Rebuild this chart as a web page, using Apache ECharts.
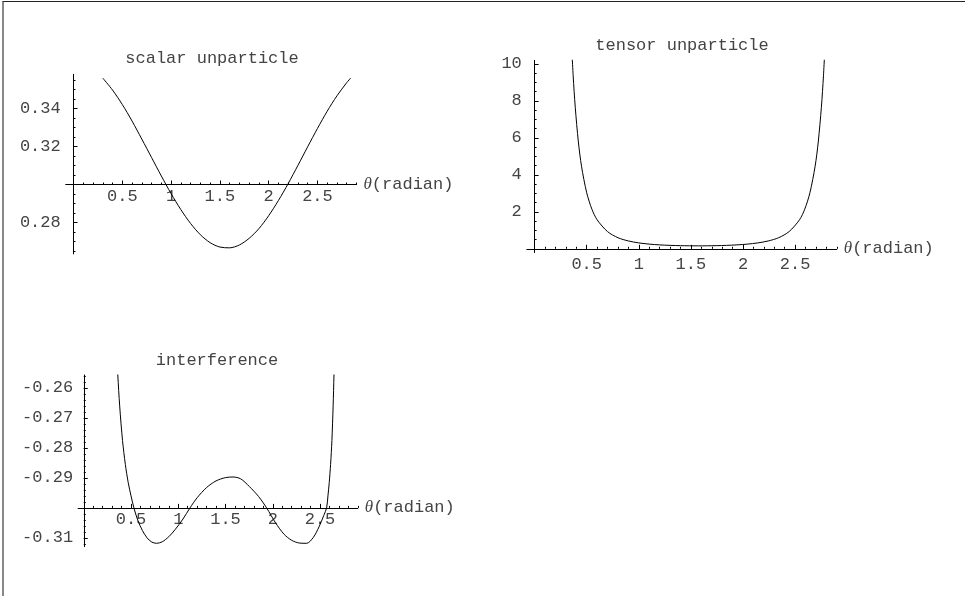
<!DOCTYPE html>
<html>
<head>
<meta charset="utf-8">
<script src="https://cdn.jsdelivr.net/npm/echarts@6/dist/echarts.min.js"></script>
<style>
  html, body { margin: 0; padding: 0; background: #fff; }
  #frame {
    position: absolute; left: 2px; top: 1px; width: 963px; height: 595px;
    border-top: 1px solid #222; border-left: 2px solid #888; box-sizing: border-box;
  }
  #main { position: absolute; left: 0; top: 0; width: 965px; height: 596px; }
</style>
</head>
<body>
<div id="frame"></div>
<div id="main"></div>
<script>
// theta in radian
const scalarTheta = [0.3, 0.4, 0.5, 0.6, 0.7, 0.8, 0.9, 1.0, 1.1, 1.2, 1.3, 1.4, 1.5,
  1.6, 1.7, 1.8, 1.9, 2.0, 2.1, 2.2, 2.3, 2.4, 2.5, 2.6, 2.7, 2.8, 2.84]
const scalarValue = [0.3560, 0.3497, 0.3421, 0.3334, 0.3239, 0.3142, 0.3045, 0.2952,
  0.2868, 0.2795, 0.2736, 0.2694, 0.2671, 0.2667, 0.2682, 0.2717, 0.2768, 0.2836,
  0.2916, 0.3005, 0.3101, 0.3199, 0.3295, 0.3386, 0.3467, 0.3536, 0.3560]

const tensorTheta = [0.35, 0.37, 0.39, 0.42, 0.45, 0.5, 0.55, 0.6, 0.7, 0.8, 0.9, 1.0,
  1.1, 1.2, 1.3, 1.4, 1.571, 1.742, 1.842, 1.942, 2.042, 2.142, 2.242, 2.342, 2.442,
  2.542, 2.592, 2.642, 2.692, 2.722, 2.752, 2.772, 2.792]
const tensorValue = [11.57, 9.36, 7.66, 5.78, 4.47, 3.03, 2.14, 1.57, 0.93, 0.60, 0.425,
  0.319, 0.254, 0.212, 0.186, 0.170, 0.160, 0.170, 0.186, 0.212, 0.254, 0.319, 0.425,
  0.60, 0.93, 1.57, 2.14, 3.03, 4.47, 5.78, 7.66, 9.36, 11.57]

const interfTheta = [0.35, 0.36, 0.38, 0.41, 0.44, 0.47, 0.5, 0.531, 0.57, 0.62, 0.67,
  0.72, 0.771, 0.83, 0.9, 0.97, 1.05, 1.124, 1.2, 1.3, 1.4, 1.5, 1.579, 1.66, 1.75,
  1.85, 1.935, 2.03, 2.12, 2.2, 2.28, 2.359, 2.43, 2.49, 2.54, 2.57, 2.584, 2.598,
  2.612, 2.626, 2.639, 2.648, 2.655]
const interfValue = [-0.2500, -0.2557, -0.2660, -0.2775, -0.2855, -0.2915, -0.2960,
  -0.3000, -0.3040, -0.3075, -0.3100, -0.3114, -0.3118, -0.3113, -0.3096, -0.3071,
  -0.3037, -0.3000, -0.2966, -0.2932, -0.2910, -0.2899, -0.2897, -0.2903, -0.2928,
  -0.2962, -0.3000, -0.3050, -0.3088, -0.3108, -0.3117, -0.3118, -0.3098, -0.3063,
  -0.3025, -0.3000, -0.2960, -0.2915, -0.2855, -0.2775, -0.2660, -0.2557, -0.2500]

// tick labels
const xTickLabels = [0.5, 1, 1.5, 2, 2.5]
const scalarTickLabels = [0.28, 0.32, 0.34]
const tensorTickLabels = [2, 4, 6, 8, 10]
const interfTickLabels = [-0.31, -0.29, -0.28, -0.27, -0.26]

function steps(a, b, d) {
  const out = []
  for (let v = a; v <= b + d / 2; v += d) out.push(+v.toFixed(4))
  return out
}

const FONT = '"Liberation Mono", "Courier New", monospace'
const FS = 17
const TEXT = '#444'

const panels = [
  {
    title: 'scalar unparticle', titleX: 212, titleY: 50,
    left: 65.7, top: 74.3, width: 290.8, height: 179.6,
    xMin: -0.08, xMax: 2.9, yMin: 0.2635, yMax: 0.358, cross: 0.30,
    yLabels: scalarTickLabels, yMinor: steps(0.265, 0.355, 0.005),
    theta: scalarTheta, value: scalarValue
  },
  {
    title: 'tensor unparticle', titleX: 682, titleY: 37,
    left: 526.8, top: 60.3, width: 310, height: 192.2,
    xMin: -0.075, xMax: 2.9, yMin: -0.2, yMax: 10.2, cross: 0,
    yLabels: tensorTickLabels, yMinor: steps(0.5, 10, 0.5),
    theta: tensorTheta, value: tensorValue
  },
  {
    title: 'interference', titleX: 217, titleY: 352,
    left: 78.1, top: 375, width: 279.7, height: 171.6,
    xMin: -0.06, xMax: 2.9, yMin: -0.3129, yMax: -0.2557, cross: -0.30,
    yLabels: interfTickLabels, yMinor: steps(-0.312, -0.256, 0.002),
    theta: interfTheta, value: interfValue
  }
]

const grid = [], xAxis = [], yAxis = [], title = [], series = []
const labelStyle = { fontFamily: FONT, fontSize: FS, color: TEXT }
const black = { color: '#000', width: 1 }

panels.forEach((p, i) => {
  grid.push({ left: p.left, top: p.top, width: p.width, height: p.height })
  title.push({
    text: p.title, left: p.titleX, top: p.titleY, textAlign: 'center', padding: 0,
    textStyle: { fontFamily: FONT, fontSize: FS, fontWeight: 'normal', color: TEXT }
  })

  const onZero = p.cross === 0
  const xBase = {
    type: 'value', gridIndex: i, min: p.xMin, max: p.xMax, position: 'bottom',
    offset: onZero ? 0 : -(p.cross - p.yMin) / (p.yMax - p.yMin) * p.height,
    splitLine: { show: false }
  }
  xAxis.push({
    ...xBase,
    name: '{t|θ}(radian)', nameLocation: 'end', nameGap: 7,
    nameTextStyle: {
      ...labelStyle,
      rich: { t: { fontFamily: '"Liberation Serif", serif', fontStyle: 'italic', fontSize: FS, color: TEXT } }
    },
    axisLine: { onZero, onZeroAxisIndex: 2 * i, lineStyle: black },
    axisTick: { inside: true, length: 4, customValues: xTickLabels, lineStyle: black },
    axisLabel: { ...labelStyle, margin: 3, customValues: xTickLabels }
  })
  xAxis.push({
    ...xBase,
    axisLine: { show: false, onZero, onZeroAxisIndex: 2 * i },
    axisTick: { inside: true, length: 2, customValues: steps(0.1, 2.9, 0.1), lineStyle: black },
    axisLabel: { show: false }
  })

  const yBase = {
    type: 'value', gridIndex: i, min: p.yMin, max: p.yMax, position: 'left',
    splitLine: { show: false }
  }
  yAxis.push({
    ...yBase,
    axisLine: { onZero: true, onZeroAxisIndex: 2 * i, lineStyle: black },
    axisTick: { inside: true, length: 4, customValues: p.yLabels, lineStyle: black },
    axisLabel: { ...labelStyle, margin: 5, customValues: p.yLabels }
  })
  yAxis.push({
    ...yBase,
    axisLine: { show: false, onZero: true, onZeroAxisIndex: 2 * i },
    axisTick: { inside: true, length: 2, customValues: p.yMinor, lineStyle: black },
    axisLabel: { show: false }
  })

  series.push({
    type: 'line',
    xAxisIndex: 2 * i,
    yAxisIndex: 2 * i,
    data: p.theta.map((t, k) => [t, p.value[k]]),
    showSymbol: false,
    smooth: 0.3,
    lineStyle: { color: '#000', width: 1 },
    silent: true
  })
})

const chart = echarts.init(document.getElementById('main'))
chart.setOption({ animation: false, title, grid, xAxis, yAxis, series })
</script>
</body>
</html>
